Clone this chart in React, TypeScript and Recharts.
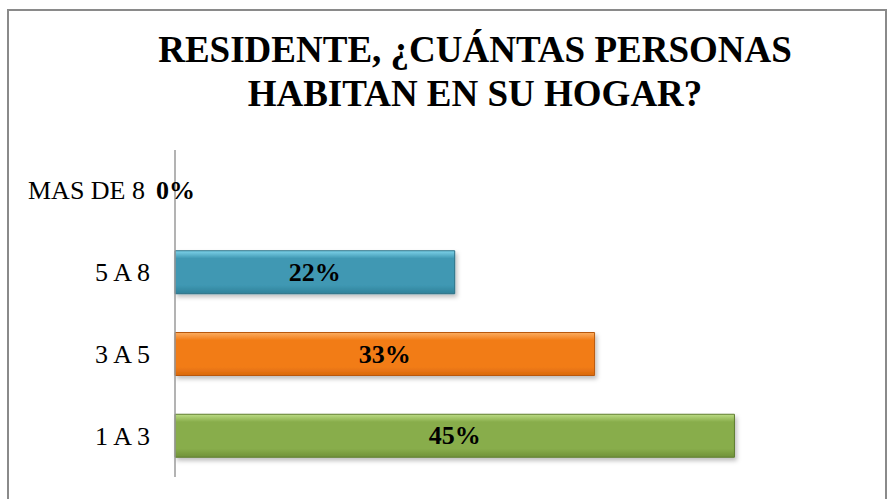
import { BarChart, Bar, XAxis, YAxis, Cell, LabelList } from 'recharts';

const CATEGORIES = ['MAS DE 8', '5 A 8', '3 A 5', '1 A 3'];
const VALUES = [0, 22.2, 33.3, 44.4];
const VALUE_LABELS = ['0%', '22%', '33%', '45%'];
const BAR_COLORS = [
  { top: '#a48bc4', mid: '#8064a2', bottom: '#6a5088', stroke: 'none' },
  { top: '#7fd3ea', mid: '#3f98b3', bottom: '#2f8199', stroke: '#2a6f84' },
  { top: '#fbae62', mid: '#f27c18', bottom: '#d9690d', stroke: '#b8590c' },
  { top: '#bcdc84', mid: '#88ad4b', bottom: '#6f9139', stroke: '#5f7d30' },
];

const FONT = '"Liberation Serif", "Times New Roman", serif';

const chartData = CATEGORIES.map((name, i) => ({ name, value: VALUES[i], label: VALUE_LABELS[i] }));

const renderLabel = (props: any) => {
  const { x, y, width, height, value } = props;
  return (
    <text
      x={Number(x) + Number(width) / 2}
      y={Number(y) + Number(height) / 2}
      textAnchor="middle"
      dominantBaseline="central"
      fontFamily={FONT}
      fontWeight="bold"
      fontSize={26}
      fill="#000"
    >
      {value}
    </text>
  );
};

// the long top label sits a little further left in the original
const CategoryTick = (props: any) => {
  const { x, y, payload, index } = props;
  return (
    <text
      x={Number(x) - (index === 0 ? 5 : 0)}
      y={Number(y)}
      textAnchor="end"
      dominantBaseline="central"
      fontFamily={FONT}
      fontSize={26}
      fill="#000"
    >
      {payload.value}
    </text>
  );
};

export default function App() {
  return (
    <div style={{ position: 'fixed', left: 0, top: 0, width: 891, height: 499, background: '#fff', overflow: 'hidden' }}>
      <div
        style={{
          position: 'absolute',
          left: 7,
          top: 9,
          width: 880,
          height: 520,
          border: '2px solid #8a8a8a',
          boxSizing: 'border-box',
        }}
      />
      <div
        style={{
          position: 'absolute',
          left: 0,
          top: 28,
          width: 950,
          textAlign: 'center',
          fontFamily: FONT,
          fontWeight: 'bold',
          fontSize: 37,
          lineHeight: '44px',
          color: '#000',
        }}
      >
        RESIDENTE, ¿CUÁNTAS PERSONAS
        <br />
        HABITAN EN SU HOGAR?
      </div>
      <div style={{ position: 'absolute', left: 0, top: 0 }}>
        <BarChart
          width={891}
          height={499}
          data={chartData}
          layout="vertical"
          margin={{ top: 150, right: 86, bottom: 22, left: 0 }}
          barSize={43}
        >
          <defs>
            {BAR_COLORS.map((c, i) => (
              <linearGradient key={i} id={`grad-${i}`} x1="0" y1="0" x2="0" y2="1">
                <stop offset="0%" stopColor={c.top} />
                <stop offset="18%" stopColor={c.mid} />
                <stop offset="80%" stopColor={c.mid} />
                <stop offset="100%" stopColor={c.bottom} />
              </linearGradient>
            ))}
            <filter id="shadow" x="-5%" y="-20%" width="110%" height="150%">
              <feDropShadow dx="2" dy="3" stdDeviation="2" floodColor="#000" floodOpacity="0.25" />
            </filter>
          </defs>
          <XAxis type="number" domain={[0, 50]} hide />
          <YAxis
            type="category"
            dataKey="name"
            width={175}
            axisLine={{ stroke: '#9a9a9a', strokeWidth: 1.5 }}
            tickLine={false}
            tickSize={6}
            tickMargin={19}
            tick={<CategoryTick />}
          />
          <Bar dataKey="value" isAnimationActive={false} minPointSize={1}>
            {chartData.map((d, i) => (
              <Cell
                key={`cell-${i}`}
                fill={d.value === 0 ? 'none' : `url(#grad-${i})`}
                stroke={BAR_COLORS[i].stroke}
                strokeWidth={1}
                filter={d.value === 0 ? undefined : 'url(#shadow)'}
              />
            ))}
            <LabelList dataKey="label" content={renderLabel} />
          </Bar>
        </BarChart>
      </div>
    </div>
  );
}
